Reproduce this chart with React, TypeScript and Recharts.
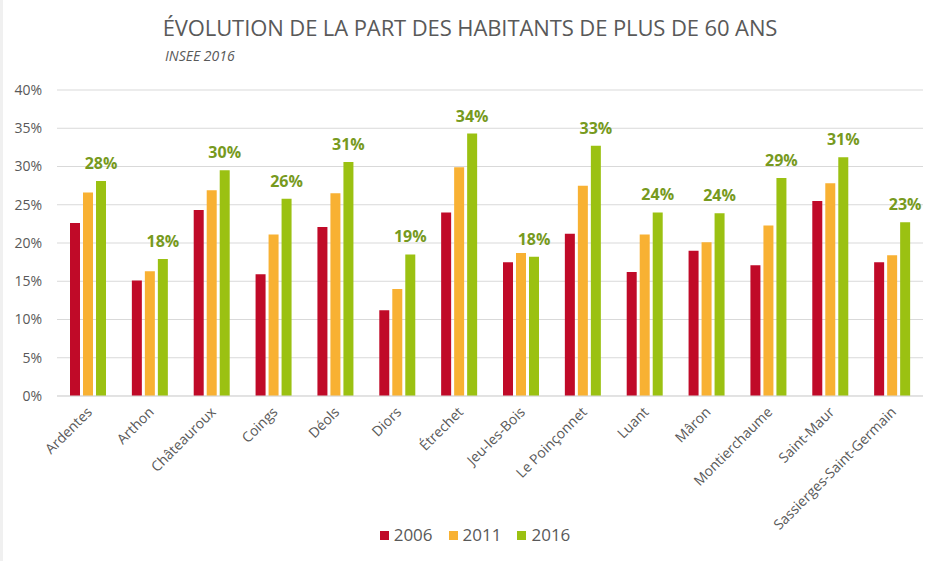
import { Bar, BarChart, CartesianGrid, LabelList, Legend, XAxis, YAxis } from "recharts";

const communes = [
  "Ardentes",
  "Arthon",
  "Châteauroux",
  "Coings",
  "Déols",
  "Diors",
  "Étrechet",
  "Jeu-les-Bois",
  "Le Poinçonnet",
  "Luant",
  "Mâron",
  "Montierchaume",
  "Saint-Maur",
  "Sassierges-Saint-Germain",
];

const part2006 = [22.6, 15.1, 24.3, 15.9, 22.1, 11.2, 24.0, 17.5, 21.2, 16.2, 19.0, 17.1, 25.5, 17.5];
const part2011 = [26.6, 16.3, 26.9, 21.1, 26.5, 14.0, 29.9, 18.7, 27.5, 21.1, 20.1, 22.3, 27.8, 18.4];
const part2016 = [28.1, 17.9, 29.5, 25.8, 30.6, 18.5, 34.3, 18.2, 32.7, 24.0, 23.9, 28.5, 31.2, 22.7];

const yTicks = [0, 5, 10, 15, 20, 25, 30, 35, 40];

const series = [
  { key: "y2006", name: "2006", color: "#C00A28" },
  { key: "y2011", name: "2011", color: "#F8B133" },
  { key: "y2016", name: "2016", color: "#9BC112" },
];

const data = communes.map((name, i) => ({
  name,
  y2006: part2006[i],
  y2011: part2011[i],
  y2016: part2016[i],
}));

const FONT = "'Open Sans', 'Noto Sans', sans-serif";
const GREY = "#595959";

function CommuneTick({ x, y, payload }: any) {
  const tx = x + 5;
  const ty = y + 9;
  return (
    <text
      x={tx}
      y={ty}
      transform={`rotate(-45 ${tx} ${ty})`}
      textAnchor="end"
      fill={GREY}
      fontSize={14}
      fontFamily={FONT}
    >
      {payload.value}
    </text>
  );
}

function YearLegend() {
  return (
    <div
      style={{
        height: 40,
        display: "flex",
        justifyContent: "center",
        alignItems: "flex-start",
        paddingTop: 3,
        paddingLeft: 24,
        boxSizing: "border-box",
        gap: 16,
        fontFamily: FONT,
        fontSize: 17,
        color: GREY,
      }}
    >
      {series.map((s) => (
        <span key={s.key} style={{ display: "flex", alignItems: "center", gap: 5, lineHeight: "22px" }}>
          <span style={{ width: 9, height: 9, background: s.color, display: "inline-block" }} />
          {s.name}
        </span>
      ))}
    </div>
  );
}

export default function App() {
  return (
    <div
      style={{
        position: "fixed",
        left: 0,
        top: 0,
        width: 937,
        height: 561,
        background: "#fff",
        borderLeft: "3px solid #f0f0f0",
        boxSizing: "border-box",
      }}
    >
      <div
        style={{
          position: "absolute",
          left: 0,
          width: 934,
          top: 12,
          textAlign: "center",
          fontFamily: FONT,
          fontSize: 22,
          color: GREY,
          letterSpacing: -0.1,
        }}
      >
        ÉVOLUTION DE LA PART DES HABITANTS DE PLUS DE 60 ANS
      </div>
      <div
        style={{
          position: "absolute",
          left: 162,
          top: 46,
          fontFamily: FONT,
          fontSize: 14,
          fontStyle: "italic",
          color: GREY,
        }}
      >
        INSEE 2016
      </div>
      <BarChart
        width={934}
        height={561}
        data={data}
        margin={{ top: 90, right: 14, bottom: 0, left: 0 }}
        barGap={3}
        barSize={10}
      >
        <CartesianGrid vertical={false} stroke="#d9d9d9" />
        <XAxis
          dataKey="name"
          interval={0}
          height={125}
          tick={<CommuneTick />}
          tickLine={false}
          axisLine={{ stroke: "#d9d9d9" }}
        />
        <YAxis
          width={54}
          domain={[0, 40]}
          ticks={yTicks}
          tickFormatter={(v: number) => `${v}%`}
          tickLine={false}
          axisLine={false}
          tickMargin={9}
          tick={{ fill: GREY, fontSize: 14, fontFamily: FONT }}
        />
        <Legend verticalAlign="bottom" content={<YearLegend />} />
        {series.map((s) => (
          <Bar key={s.key} dataKey={s.key} name={s.name} fill={s.color} isAnimationActive={false}>
            {s.key === "y2016" && (
              <LabelList
                dataKey="y2016"
                position="top"
                offset={12}
                formatter={(v: any) => `${Math.round(Number(v))}%`}
                fill="#779A1E"
                fontSize={16}
                fontWeight="bold"
                fontFamily={FONT}
              />
            )}
          </Bar>
        ))}
      </BarChart>
    </div>
  );
}
